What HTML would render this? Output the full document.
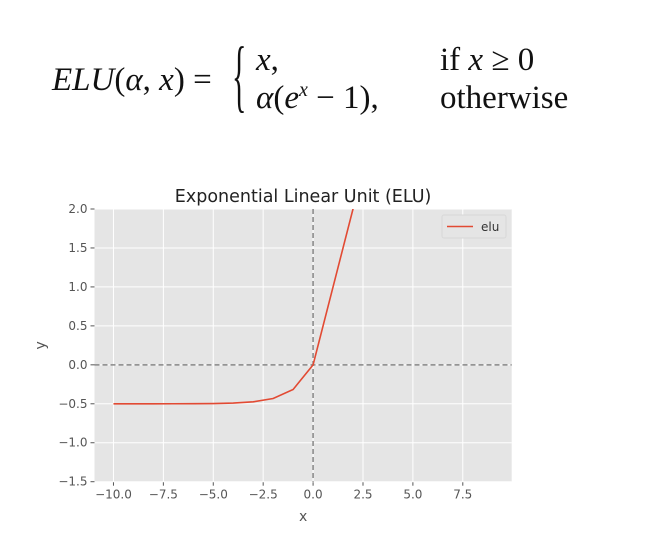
<!DOCTYPE html>
<html><head><meta charset="utf-8"><style>
html,body{margin:0;padding:0;background:#fff;}
svg{display:block;}
</style></head><body>
<svg id="root" width="647" height="547" xmlns="http://www.w3.org/2000/svg">
<g font-family="'Liberation Serif','DejaVu Serif',serif" font-size="33" fill="#111">
  <text x="52" y="90" font-style="italic">ELU<tspan font-style="normal">(</tspan>α<tspan font-style="normal">, </tspan>x<tspan font-style="normal">) =</tspan></text>
  <text x="232" y="102" font-size="30" transform="translate(232 102) scale(1 2.7) translate(-232 -102)">{</text>
  <text x="256" y="70" font-style="italic">x<tspan font-style="normal">,</tspan></text>
  <text x="256" y="108" font-style="italic">α<tspan font-style="normal">(</tspan>e<tspan font-size="20" dy="-12">x</tspan><tspan font-style="normal" dy="12"> − 1),</tspan></text>
  <text x="440" y="70">if <tspan font-style="italic">x</tspan> ≥ 0</text>
  <text x="440" y="108">otherwise</text>
</g>
<g id="chart" font-family="'DejaVu Sans','Liberation Sans',sans-serif"></g>
</svg>
<script>
const xs = [-10,-9,-8,-7,-6,-5,-4,-3,-2,-1,0,1,2,3,4,5,6,7,8,9];
const ys = [-0.49998,-0.49994,-0.49983,-0.49954,-0.49876,-0.49663,-0.49084,-0.47511,-0.43233,-0.31606,0,1,2,3,4,5,6,7,8,9];
const xTicks = [-10,-7.5,-5,-2.5,0,2.5,5,7.5];
const xTickLabels = ["−10.0","−7.5","−5.0","−2.5","0.0","2.5","5.0","7.5"];
const yTicks = [2,1.5,1,0.5,0,-0.5,-1,-1.5];
const yTickLabels = ["2.0","1.5","1.0","0.5","0.0","−0.5","−1.0","−1.5"];
const seriesName = "elu";

const L=94.5,R=511.7,T=209,B=481.7;
const xMin=-10.95,xMax=9.95,yMin=-1.5,yMax=2.0;
const sx=v=>L+(v-xMin)/(xMax-xMin)*(R-L);
const sy=v=>B-(v-yMin)/(yMax-yMin)*(B-T);
const NS="http://www.w3.org/2000/svg";
const g=document.getElementById('chart');
function mk(tag,attrs,parent){const e=document.createElementNS(NS,tag);for(const k in attrs)e.setAttribute(k,attrs[k]);(parent||g).appendChild(e);return e;}

const defs=mk('defs',{});
const cp=mk('clipPath',{id:'clip'},defs);
mk('rect',{x:L,y:T,width:R-L,height:B-T},cp);

const bg=mk('rect',{x:L,y:T,width:R-L,height:B-T,fill:'#e5e5e5'});



xTicks.forEach((v,i)=>{
  const x=sx(v);
  const gl=mk('line',{x1:x,x2:x,y1:T,y2:B,stroke:'#fff','stroke-width':1});
  
  
  const tk=mk('line',{x1:x,x2:x,y1:B,y2:B+4,stroke:'#555','stroke-width':1});
  
  
  const t=mk('text',{x:x,y:B+17,'text-anchor':'middle','font-size':12,fill:'#555'});
  t.textContent=xTickLabels[i];
  
  
});
yTicks.forEach((v,i)=>{
  const y=sy(v);
  const gl=mk('line',{x1:L,x2:R,y1:y,y2:y,stroke:'#fff','stroke-width':1});
  
  
  const tk=mk('line',{x1:L-4,x2:L,y1:y,y2:y,stroke:'#555','stroke-width':1});
  
  
  const t=mk('text',{x:L-7,y:y+4,'text-anchor':'end','font-size':12,fill:'#555'});
  t.textContent=yTickLabels[i];
  
  
});

const hz=mk('line',{x1:L,x2:R,y1:sy(0),y2:sy(0),stroke:'#888','stroke-width':1.5,'stroke-dasharray':'5,3'});


const vz=mk('line',{x1:sx(0),x2:sx(0),y1:T,y2:B,stroke:'#888','stroke-width':1.5,'stroke-dasharray':'5,3'});



const pts=xs.map((v,i)=>sx(v).toFixed(2)+','+sy(ys[i]).toFixed(2)).join(' ');
const line=mk('polyline',{points:pts,fill:'none',stroke:'#e24a33','stroke-width':1.6,'clip-path':'url(#clip)'});



const lg=mk('g',{});


mk('rect',{x:442,y:215,width:64,height:23,rx:2,fill:'#e5e5e5',stroke:'#d8d8d8'},lg);
const ll=mk('line',{x1:447,x2:473,y1:226.5,y2:226.5,stroke:'#e24a33','stroke-width':1.6},lg);


const lt=mk('text',{x:481,y:231,'font-size':12,fill:'#333'},lg);
lt.textContent=seriesName;



const title=mk('text',{x:(L+R)/2,y:202,'text-anchor':'middle','font-size':17.5,fill:'#222'});
title.textContent='Exponential Linear Unit (ELU)';


const xl=mk('text',{x:(L+R)/2,y:521,'text-anchor':'middle','font-size':14,fill:'#555'});
xl.textContent='x';


const yl=mk('text',{x:45,y:(T+B)/2,'text-anchor':'middle','font-size':14,fill:'#555',transform:'rotate(-90 45 '+((T+B)/2)+')'});
yl.textContent='y';


</script>
</body></html>
